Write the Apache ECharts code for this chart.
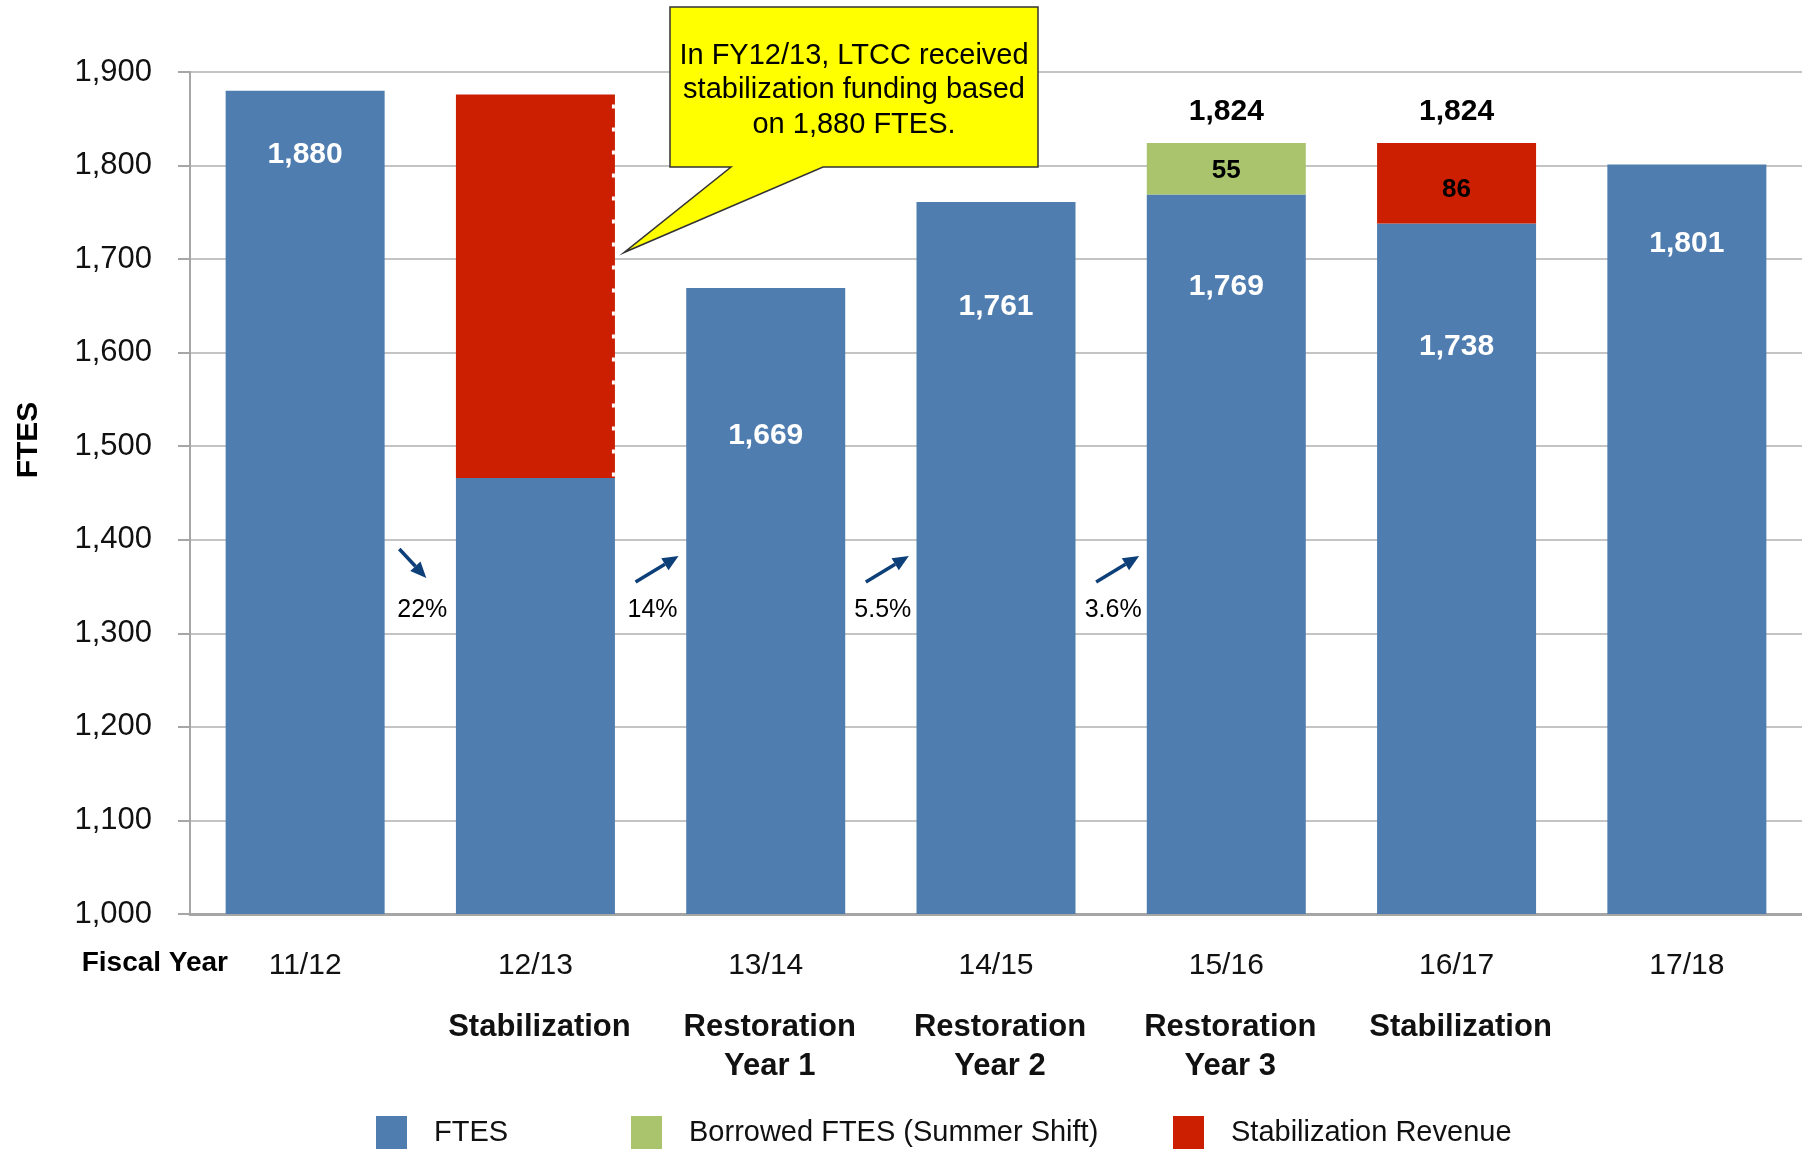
<!DOCTYPE html>
<html>
<head>
<meta charset="utf-8">
<script src="https://cdn.jsdelivr.net/npm/echarts@6/dist/echarts.min.js"></script>
<style>
    html, body { margin: 0; padding: 0; background: #fff; }
    #chart { width: 1802px; height: 1149px; }
</style>
</head>
<body>
<div id="chart"></div>
<script>
// data
const years = ["11/12", "12/13", "13/14", "14/15", "15/16", "16/17", "17/18"];
const phases = ["", "Stabilization", "Restoration\nYear 1", "Restoration\nYear 2", "Restoration\nYear 3", "Stabilization", ""];
const ftes = [1880, 1466, 1669, 1761, 1769, 1738, 1801];
const ftesShown = [true, false, true, true, true, true, true];
const borrowed = [null, null, null, null, 55, null, null];
const stabilization = [null, 410, null, null, null, 86, null];
const totals = [null, null, null, null, 1824, 1824, null];
const changes = ["22%", "14%", "5.5%", "3.6%"];
const changeDir = ["down", "up", "up", "up"];
const calloutLines = ["In FY12/13, LTCC received", "stabilization funding based", "on 1,880 FTES."];

// label drop below the bar top (px), just styling
const ftesLabelDrop = [49, 0, 133, 90, 77, 108, 64];

const FONT = "'Liberation Sans', Arial, sans-serif";
const BLUE = "#4F7DAF";
const GREEN = "#A9C46C";
const RED = "#CC1E00";
const BAR_W = 159;
const fmt = v => Number(v).toLocaleString("en-US");

const chart = echarts.init(document.getElementById("chart"));

chart.setOption({
    animation: false,
    textStyle: { fontFamily: FONT },
    grid: { left: 190, right: 0, top: 72, bottom: 235 },
    legend: [
        { data: ["FTES"], left: 376, top: 1116 },
        { data: ["Borrowed FTES (Summer Shift)"], left: 631, top: 1116 },
        { data: ["Stabilization Revenue"], left: 1173, top: 1116 },
    ].map(l => Object.assign(l, {
        padding: 0,
        icon: "rect",
        itemWidth: 31,
        itemHeight: 34,
        textStyle: { fontSize: 29, color: "#111", fontFamily: FONT, padding: [0, 0, 0, 22] },
    })),
    xAxis: {
        type: "category",
        data: years,
        axisLine: { lineStyle: { color: "#A6A6A6", width: 3 } },
        axisTick: { show: false },
        axisLabel: {
            margin: 9,
            formatter: (v, i) => {
                const ph = phases[i];
                let s = `{yr|${v}}`;
                if (ph) s += "\n" + ph.split("\n").map(t => `{ph|${t}}`).join("\n");
                return s;
            },
            rich: {
                yr: { fontSize: 30, color: "#111", lineHeight: 85, fontFamily: FONT },
                ph: { fontSize: 31, fontWeight: "bold", color: "#111", lineHeight: 39, fontFamily: FONT, padding: [0, 0, 0, 8] },
            },
        },
    },
    yAxis: {
        type: "value",
        min: 1000,
        max: 1900,
        interval: 100,
        axisLine: { show: true, lineStyle: { color: "#A6A6A6", width: 2 } },
        axisTick: { show: true, length: 12, lineStyle: { color: "#A6A6A6", width: 2 } },
        splitLine: { lineStyle: { color: "#C4C4C4", width: 2 } },
        axisLabel: { fontSize: 31, color: "#111", margin: 38, formatter: fmt },
    },
    series: [
        {
            name: "FTES",
            type: "bar",
            stack: "a",
            barWidth: BAR_W,
            itemStyle: { color: BLUE },
            label: {
                show: true,
                position: "insideTop",
                color: "#fff",
                fontSize: 30,
                fontWeight: "bold",
                formatter: p => fmt(p.value),
            },
            data: ftes.map((v, i) => ({
                value: v,
                label: { show: ftesShown[i], distance: ftesLabelDrop[i] },
            })),
        },
        {
            name: "Borrowed FTES (Summer Shift)",
            type: "bar",
            stack: "a",
            barWidth: BAR_W,
            itemStyle: { color: GREEN },
            label: { show: true, position: "inside", color: "#000", fontSize: 26, fontWeight: "bold", offset: [0, 2] },
            data: borrowed,
        },
        {
            name: "Stabilization Revenue",
            type: "bar",
            stack: "a",
            barWidth: BAR_W,
            itemStyle: { color: RED },
            label: { show: true, position: "inside", color: "#000", fontSize: 26, fontWeight: "bold", offset: [0, 6] },
            data: stabilization.map((v, i) => (i === 1 && v != null)
                ? { value: v, label: { show: false } }
                : v),
        },
        {
            // zero-height cap carrying the stack totals
            name: "Total",
            type: "bar",
            stack: "a",
            barWidth: BAR_W,
            itemStyle: { color: "rgba(0,0,0,0)" },
            label: {
                show: true,
                position: "top",
                distance: 16,
                color: "#000",
                fontSize: 30,
                fontWeight: "bold",
                formatter: p => fmt(totals[p.dataIndex]),
            },
            data: totals.map(t => (t == null ? null : 0)),
        },
    ],
});

// annotations placed off the axes
const gfx = [];
const NAVY = "#0D3F78";

function arrow(x1, y1, x2, y2) {
    const dx = x2 - x1, dy = y2 - y1;
    const len = Math.hypot(dx, dy);
    const ux = dx / len, uy = dy / len;
    const bx = x2 - ux * 16, by = y2 - uy * 16;
    const nx = -uy * 7, ny = ux * 7;
    gfx.push({
        type: "line",
        shape: { x1, y1, x2: bx, y2: by },
        style: { stroke: NAVY, lineWidth: 3.5 },
    });
    gfx.push({
        type: "polygon",
        shape: { points: [[x2, y2], [bx + nx, by + ny], [bx - nx, by - ny]] },
        style: { fill: NAVY },
    });
}

changes.forEach((txt, i) => {
    const x = (chart.convertToPixel({ xAxisIndex: 0 }, years[i]) +
               chart.convertToPixel({ xAxisIndex: 0 }, years[i + 1])) / 2;
    if (changeDir[i] === "down") arrow(x - 21, 549, x + 6, 578);
    else arrow(x - 15, 582, x + 28, 556);
    gfx.push({
        type: "text",
        x: x + 2, y: 610,
        style: { text: txt, font: `25px ${FONT}`, fill: "#000", align: "center", verticalAlign: "middle" },
    });
});

// dashed right edge of the 12/13 stabilization block
const redTop = chart.convertToPixel({ xAxisIndex: 0, yAxisIndex: 0 }, [years[1], ftes[1] + stabilization[1]]);
const redBot = chart.convertToPixel({ xAxisIndex: 0, yAxisIndex: 0 }, [years[1], ftes[1]]);
const redRight = redTop[0] + BAR_W / 2 - 1.5;
gfx.push({
    type: "line",
    z: 100,
    shape: { x1: redRight, y1: redTop[1] + 10, x2: redRight, y2: redBot[1] },
    style: { stroke: "#fff", lineWidth: 3, lineDash: [4, 19] },
});

// callout
const tipPt = chart.convertToPixel({ xAxisIndex: 0, yAxisIndex: 0 }, [years[1], 1707]);
const tipX = tipPt[0] + BAR_W / 2 + 9, tipY = tipPt[1];
gfx.push({
    type: "polygon",
    shape: { points: [[670, 7], [1038, 7], [1038, 167], [823, 167], [tipX, tipY], [731, 167], [670, 167]] },
    style: { fill: "#FFFF00", stroke: "#333", lineWidth: 1.5 },
});
gfx.push({
    type: "text",
    x: 854, y: 90,
    style: {
        text: calloutLines.join("\n"),
        font: `29px ${FONT}`,
        fill: "#000",
        align: "center",
        verticalAlign: "middle",
        lineHeight: 34.5,
    },
});

// axis titles
gfx.push({
    type: "text",
    x: 29, y: 440,
    rotation: Math.PI / 2,
    style: { text: "FTES", font: `bold 30px ${FONT}`, fill: "#000", align: "center", verticalAlign: "middle" },
});
gfx.push({
    type: "text",
    x: 228, y: 963,
    style: { text: "Fiscal Year", font: `bold 28px ${FONT}`, fill: "#000", align: "right", verticalAlign: "middle" },
});

chart.setOption({ graphic: gfx });
</script>
</body>
</html>
